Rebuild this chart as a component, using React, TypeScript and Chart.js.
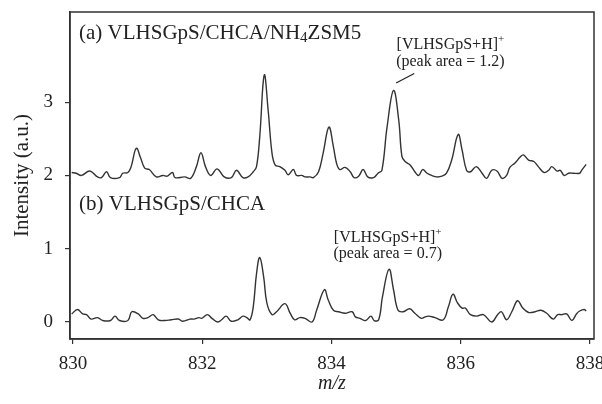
import React, { useEffect, useRef } from "react";
import { Chart, registerables } from "chart.js";

Chart.register(...registerables);

const upperMz = [829.98, 830.05, 830.13, 830.26, 830.38, 830.44, 830.52, 830.58, 830.72, 830.77, 830.85, 830.9, 830.98, 831.05, 831.11, 831.18, 831.29, 831.39, 831.46, 831.54, 831.58, 831.73, 831.82, 831.91, 831.98, 832.05, 832.13, 832.23, 832.34, 832.45, 832.53, 832.63, 832.71, 832.79, 832.84, 832.89, 832.96, 833.02, 833.08, 833.13, 833.2, 833.28, 833.33, 833.41, 833.46, 833.54, 833.59, 833.67, 833.72, 833.8, 833.87, 833.96, 834.03, 834.08, 834.13, 834.21, 834.29, 834.35, 834.42, 834.49, 834.56, 834.65, 834.72, 834.78, 834.86, 834.96, 835.04, 835.09, 835.14, 835.22, 835.29, 835.35, 835.41, 835.48, 835.55, 835.63, 835.71, 835.78, 835.86, 835.96, 836.02, 836.09, 836.15, 836.24, 836.33, 836.4, 836.48, 836.56, 836.64, 836.71, 836.76, 836.84, 836.92, 836.97, 837.05, 837.13, 837.2, 837.29, 837.36, 837.41, 837.49, 837.54, 837.6, 837.67, 837.74, 837.84, 837.87, 837.94];
const upperIntensity = [2.04, 2.03, 2.0, 2.06, 1.98, 1.97, 2.05, 1.97, 1.97, 2.03, 2.04, 2.12, 2.37, 2.23, 2.1, 2.08, 1.98, 2.0, 1.99, 2.04, 1.97, 1.98, 1.96, 2.12, 2.31, 2.12, 2.0, 2.09, 1.98, 1.97, 2.07, 1.97, 1.98, 2.05, 2.12, 2.53, 3.37, 2.89, 2.3, 2.14, 2.12, 2.07, 2.01, 2.08, 2.0, 2.0, 1.98, 1.98, 1.97, 2.05, 2.3, 2.66, 2.39, 2.16, 2.08, 2.11, 2.05, 1.97, 1.99, 2.08, 1.98, 1.97, 2.03, 2.07, 2.66, 3.16, 2.76, 2.26, 2.19, 2.14, 2.05, 2.0, 2.08, 2.03, 2.0, 1.98, 1.99, 2.03, 2.21, 2.56, 2.35, 2.07, 2.05, 2.12, 2.03, 1.96, 2.07, 2.06, 1.96, 2.0, 2.11, 2.17, 2.25, 2.28, 2.21, 2.19, 2.12, 2.04, 2.07, 2.12, 2.06, 2.07, 2.0, 2.03, 2.03, 2.03, 2.07, 2.15];

const lowerMz = [829.98, 830.07, 830.15, 830.21, 830.28, 830.38, 830.46, 830.58, 830.65, 830.72, 830.85, 830.91, 831.01, 831.08, 831.16, 831.24, 831.32, 831.42, 831.52, 831.63, 831.7, 831.81, 831.87, 831.95, 831.99, 832.08, 832.15, 832.24, 832.3, 832.37, 832.45, 832.55, 832.63, 832.69, 832.74, 832.79, 832.84, 832.89, 832.95, 833.0, 833.08, 833.15, 833.28, 833.36, 833.43, 833.51, 833.59, 833.7, 833.77, 833.89, 833.95, 834.03, 834.11, 834.21, 834.32, 834.37, 834.44, 834.53, 834.61, 834.66, 834.73, 834.79, 834.89, 834.96, 835.03, 835.11, 835.21, 835.29, 835.39, 835.45, 835.5, 835.6, 835.73, 835.81, 835.88, 835.95, 836.02, 836.07, 836.15, 836.25, 836.35, 836.48, 836.57, 836.63, 836.71, 836.79, 836.88, 836.96, 837.05, 837.15, 837.24, 837.33, 837.43, 837.5, 837.56, 837.64, 837.72, 837.79, 837.84, 837.91, 837.94];
const lowerIntensity = [0.11, 0.17, 0.11, 0.1, 0.04, 0.06, 0.02, 0.02, 0.08, 0.02, 0.02, 0.14, 0.11, 0.05, 0.06, 0.1, 0.03, 0.02, 0.03, 0.04, 0.01, 0.04, 0.04, 0.06, 0.05, 0.1, 0.05, 0.0, 0.03, 0.08, 0.01, 0.03, 0.08, 0.06, 0.03, 0.21, 0.66, 0.88, 0.62, 0.26, 0.1, 0.14, 0.25, 0.12, 0.03, 0.06, 0.05, 0.0, 0.16, 0.44, 0.3, 0.16, 0.14, 0.12, 0.14, 0.07, 0.05, 0.02, 0.08, 0.02, 0.03, 0.35, 0.72, 0.44, 0.16, 0.14, 0.18, 0.12, 0.05, 0.07, 0.08, 0.06, 0.03, 0.21, 0.38, 0.26, 0.19, 0.19, 0.1, 0.08, 0.1, 0.0, 0.1, 0.14, 0.03, 0.14, 0.29, 0.19, 0.13, 0.14, 0.16, 0.12, 0.04, 0.1, 0.1, 0.11, 0.02, 0.11, 0.15, 0.17, 0.15];

const xTicks = [830, 832, 834, 836, 838];
const yTicks = [0, 1, 2, 3];

// annotation anchors in data coordinates: [m/z, intensity]
const annotUpperLines = [["[VLHSGpS+H]", "+"], ["(peak area = 1.2)", ""]];
const annotUpperAnchor = [835.84, 3.78, 3.55];
const annotUpperLeader = [835.0, 3.26, 835.28, 3.39];
const annotLowerLines = [["[VLHSGpS+H]", "+"], ["(peak area = 0.7)", ""]];
const annotLowerAnchor = [834.87, 1.15, 0.93];

const SERIF = "'Liberation Serif', 'DejaVu Serif', serif";
const INK = "#222";
const LINE = "#333";

function drawRich(ctx: CanvasRenderingContext2D, parts: { t: string; size: number; dy: number }[], cx: number, cy: number, align: "center" | "left") {
  let total = 0;
  const widths = parts.map((p) => {
    ctx.font = `${p.size}px ${SERIF}`;
    const w = ctx.measureText(p.t).width;
    total += w;
    return w;
  });
  let x = align === "center" ? cx - total / 2 : cx;
  ctx.textAlign = "left";
  ctx.textBaseline = "middle";
  parts.forEach((p, i) => {
    ctx.font = `${p.size}px ${SERIF}`;
    ctx.fillText(p.t, x, cy + p.dy);
    x += widths[i];
  });
}

const overlayPlugin = {
  id: "overlay",
  afterDraw(chart: any) {
    const { ctx, chartArea, scales } = chart;
    const xs = scales.x;
    const ys = scales.y;
    ctx.save();
    ctx.strokeStyle = LINE;
    ctx.lineWidth = 1.5;
    ctx.strokeRect(chartArea.left, chartArea.top, chartArea.right - chartArea.left, chartArea.bottom - chartArea.top);

    ctx.fillStyle = INK;
    drawRich(ctx, [
      { t: "(a) VLHSGpS/CHCA/NH", size: 21, dy: 0 },
      { t: "4", size: 15, dy: 5 },
      { t: "ZSM5", size: 21, dy: 0 },
    ], chartArea.left + 9, chartArea.top + 21, "left");
    drawRich(ctx, [{ t: "(b) VLHSGpS/CHCA", size: 21, dy: 0 }], chartArea.left + 9, ys.getPixelForValue(1.61), "left");

    const drawAnnot = (lines: string[][], anchor: number[]) => {
      const cx = xs.getPixelForValue(anchor[0]);
      lines.forEach((ln, i) => {
        const cy = ys.getPixelForValue(anchor[1 + i]);
        const parts = [{ t: ln[0], size: 16, dy: 0 }];
        if (ln[1]) parts.push({ t: ln[1], size: 11, dy: -6 });
        drawRich(ctx, parts, cx, cy, "center");
      });
    };
    drawAnnot(annotUpperLines, annotUpperAnchor);
    drawAnnot(annotLowerLines, annotLowerAnchor);

    ctx.strokeStyle = INK;
    ctx.lineWidth = 1.2;
    ctx.beginPath();
    ctx.moveTo(xs.getPixelForValue(annotUpperLeader[0]), ys.getPixelForValue(annotUpperLeader[1]));
    ctx.lineTo(xs.getPixelForValue(annotUpperLeader[2]), ys.getPixelForValue(annotUpperLeader[3]));
    ctx.stroke();
    ctx.restore();
  },
};

export default function App() {
  const ref = useRef<HTMLCanvasElement>(null);
  useEffect(() => {
    if (!ref.current) return;
    const chart = new Chart(ref.current, {
      type: "line",
      data: {
        datasets: [
          {
            data: upperMz.map((x, i) => ({ x, y: upperIntensity[i] })),
            borderColor: LINE,
            borderWidth: 1.4,
            pointRadius: 0,
            tension: 0.4,
            fill: false,
          },
          {
            data: lowerMz.map((x, i) => ({ x, y: lowerIntensity[i] })),
            borderColor: LINE,
            borderWidth: 1.4,
            pointRadius: 0,
            tension: 0.4,
            fill: false,
          },
        ],
      },
      options: {
        animation: false,
        responsive: false,
        devicePixelRatio: 1,
        layout: { padding: { left: 0, top: 12, right: 8, bottom: 0 } },
        plugins: { legend: { display: false }, tooltip: { enabled: false } },
        scales: {
          x: {
            type: "linear",
            min: 829.954,
            max: 838.062,
            afterBuildTicks: (s: any) => {
              s.ticks = xTicks.map((v) => ({ value: v }));
            },
            afterFit: (s: any) => {
              s.height = 65;
              s.paddingLeft = 0;
              s.paddingRight = 0;
            },
            grid: { display: true, drawOnChartArea: false, drawTicks: true, tickLength: 5, color: LINE, lineWidth: 1.2 },
            border: { display: true, color: LINE, width: 1.5 },
            ticks: { color: INK, font: { family: SERIF, size: 19 }, padding: 9, maxRotation: 0 },
            title: { display: true, text: "m/z", color: INK, font: { family: SERIF, size: 20, style: "italic" }, padding: { top: 0, bottom: 8 } },
          },
          y: {
            type: "linear",
            min: -0.232,
            max: 4.23,
            afterBuildTicks: (s: any) => {
              s.ticks = yTicks.map((v) => ({ value: v }));
            },
            afterFit: (s: any) => {
              s.width = 70;
              s.paddingTop = 0;
              s.paddingBottom = 0;
            },
            grid: { display: true, drawOnChartArea: false, drawTicks: true, tickLength: 5, color: LINE, lineWidth: 1.2 },
            border: { display: true, color: LINE, width: 1.5 },
            ticks: { color: INK, font: { family: SERIF, size: 19 }, padding: 12 },
            title: { display: true, text: "Intensity (a.u.)", color: INK, font: { family: SERIF, size: 21 }, padding: { top: 10, bottom: 0 } },
          },
        },
      },
      plugins: [overlayPlugin],
    } as any);
    return () => chart.destroy();
  }, []);
  return (
    <div style={{ position: "absolute", left: 0, top: 0, width: 602, height: 404 }}>
      <canvas ref={ref} width={602} height={404} style={{ display: "block" }} />
    </div>
  );
}
